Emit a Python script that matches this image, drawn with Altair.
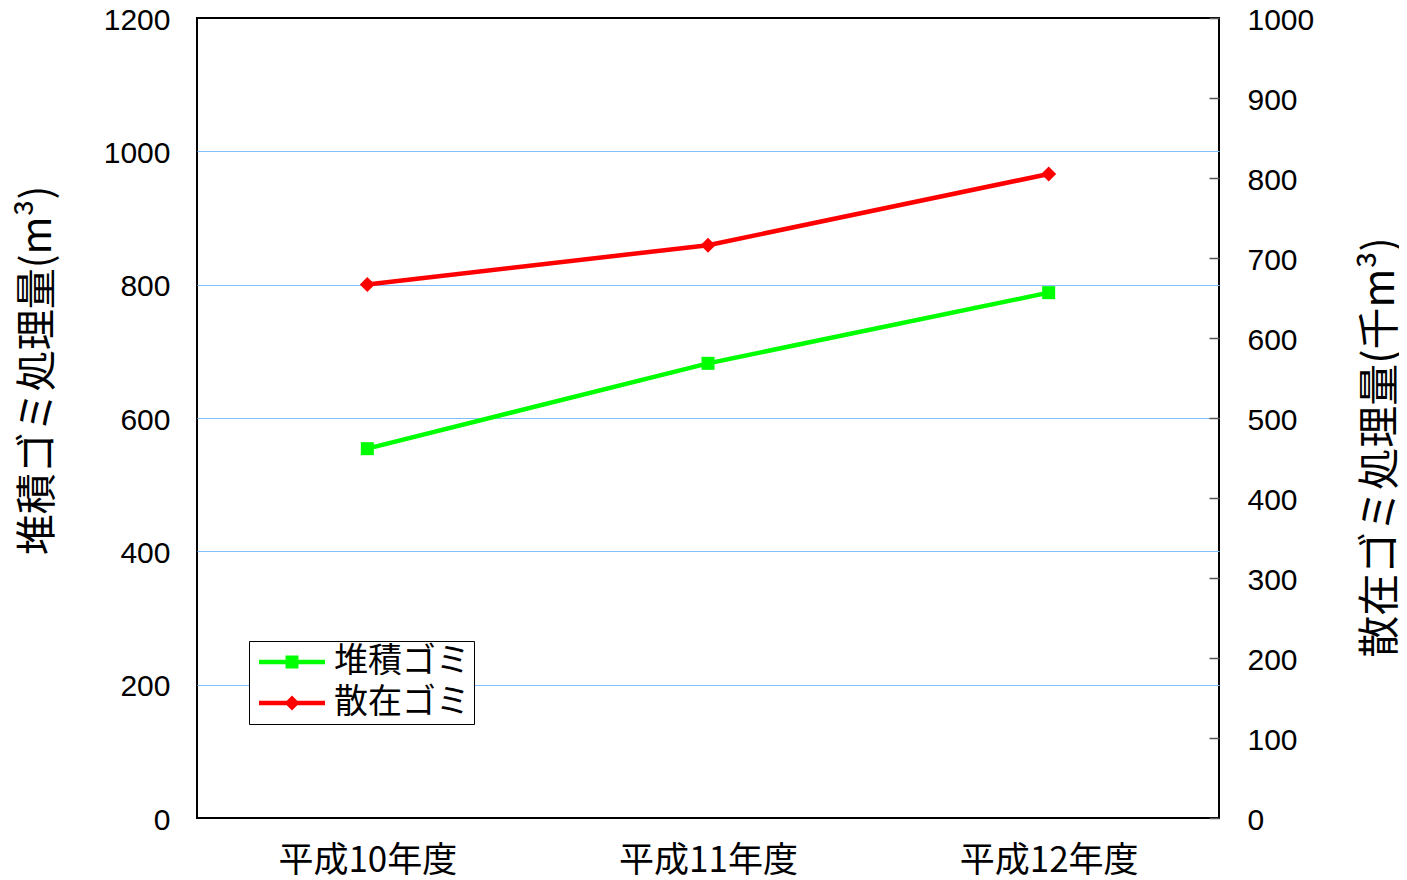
import altair as alt
import pandas as pd

years = ["平成10年度", "平成11年度", "平成12年度"]
series_names = ["堆積ゴミ", "散在ゴミ"]
taiseki = [554, 682, 788]      # left axis (m3)
sanzai = [667, 716, 805]       # right axis (千m3)
left_ticks = [0, 200, 400, 600, 800, 1000, 1200]
right_ticks = [0, 100, 200, 300, 400, 500, 600, 700, 800, 900, 1000]
colors = ["#00ff00", "#ff0000"]

df_g = pd.DataFrame({"year": years, "value": taiseki, "series": series_names[0]})
df_r = pd.DataFrame({"year": years, "value": sanzai, "series": series_names[1]})
df_leg = pd.DataFrame({"series": series_names})

JP = "Noto Sans CJK JP"
NUM = "Liberation Sans"

xenc = alt.X("year:N", sort=years,
             scale=alt.Scale(type="point", padding=0.5),
             axis=alt.Axis(title=None, labelFont=JP, labelFontSize=35, labelColor="black",
                           labelPadding=25, ticks=False, domain=False, grid=False, labelAngle=0))

y_left = alt.Y("value:Q", scale=alt.Scale(domain=[0, 1200], nice=False),
               axis=alt.Axis(orient="left", values=left_ticks, format="d", title="堆積ゴミ処理量(m³)",
                             labelFont=NUM, labelFontSize=30, labelColor="black", labelPadding=27,
                             labelOffset=2,
                             ticks=False, domain=False, grid=True,
                             gridColor={"condition": {"test": "datum.value == 0 || datum.value == 1200",
                                                      "value": "black"}, "value": "#80c0ff"},
                             gridWidth=1,
                             titleFont=JP, titleFontSize=41, titleFontWeight="normal", titleColor="black",
                             titleAngle=270, titleX=-159, titleY=352, titleAlign="center",
                             titleBaseline="middle"))

y_right = alt.Y("value:Q", scale=alt.Scale(domain=[0, 1000], nice=False),
                axis=alt.Axis(orient="right", values=right_ticks, format="d", title="散在ゴミ処理量(千m³)",
                              labelFont=NUM, labelFontSize=30, labelColor="black", labelPadding=28,
                              labelOffset=2,
                              offset=-10, ticks=True, tickSize=10, tickColor="#555555", tickWidth=1.5,
                              domain=False, grid=False,
                              titleFont=JP, titleFontSize=42, titleFontWeight="normal", titleColor="black",
                              titleAngle=270, titleX=171, titleY=429, titleAlign="center",
                              titleBaseline="middle"))

g_line = alt.Chart(df_g).mark_line(color=colors[0], strokeWidth=4.5).encode(x=xenc, y=y_left)
g_pts = alt.Chart(df_g).mark_point(shape="square", filled=True, size=169, color=colors[0],
                                   opacity=1).encode(x=xenc, y=y_left)
r_line = alt.Chart(df_r).mark_line(color=colors[1], strokeWidth=4.5).encode(x=xenc, y=y_right)
r_pts = alt.Chart(df_r).mark_point(shape="diamond", filled=True, size=225, color=colors[1],
                                   opacity=1).encode(x=xenc, y=y_right)

path_g = "M-2.2,-0.15H2.2V0.15H-2.2Z M-0.43,-0.43H0.43V0.43H-0.43Z"
path_r = "M-2.2,-0.15H2.2V0.15H-2.2Z M0,-0.5L0.5,0L0,0.5L-0.5,0Z"

leg = alt.Legend(orient="none", legendX=52, legendY=623, title=None,
                 labelFont=JP, labelFontSize=34, labelColor="black",
                 symbolSize=900, symbolStrokeWidth=0, symbolOffset=22, labelOffset=25,
                 padding=4, rowPadding=7, fillColor="white", strokeColor="black")

legend_layer = alt.Chart(df_leg).mark_point(filled=True, size=900, opacity=1).encode(
    color=alt.Color("series:N", sort=series_names,
                    scale=alt.Scale(domain=series_names, range=colors), legend=leg),
    shape=alt.Shape("series:N", sort=series_names,
                    scale=alt.Scale(domain=series_names, range=[path_g, path_r]), legend=leg),
).transform_filter("datum.series == 'none'")

left = alt.layer(g_line, g_pts)
right = alt.layer(r_line, r_pts)

chart = alt.layer(left, right, legend_layer).resolve_scale(y="independent").properties(
    width=1022, height=800,
    background="white",
    autosize=alt.AutoSizeParams(type="none"),
    padding={"left": 189, "top": 10, "right": 180, "bottom": 62},
).configure_view(stroke="black", strokeWidth=2, fill="white")

chart.save("out.html", embed_options={"renderer": "svg", "actions": False})
